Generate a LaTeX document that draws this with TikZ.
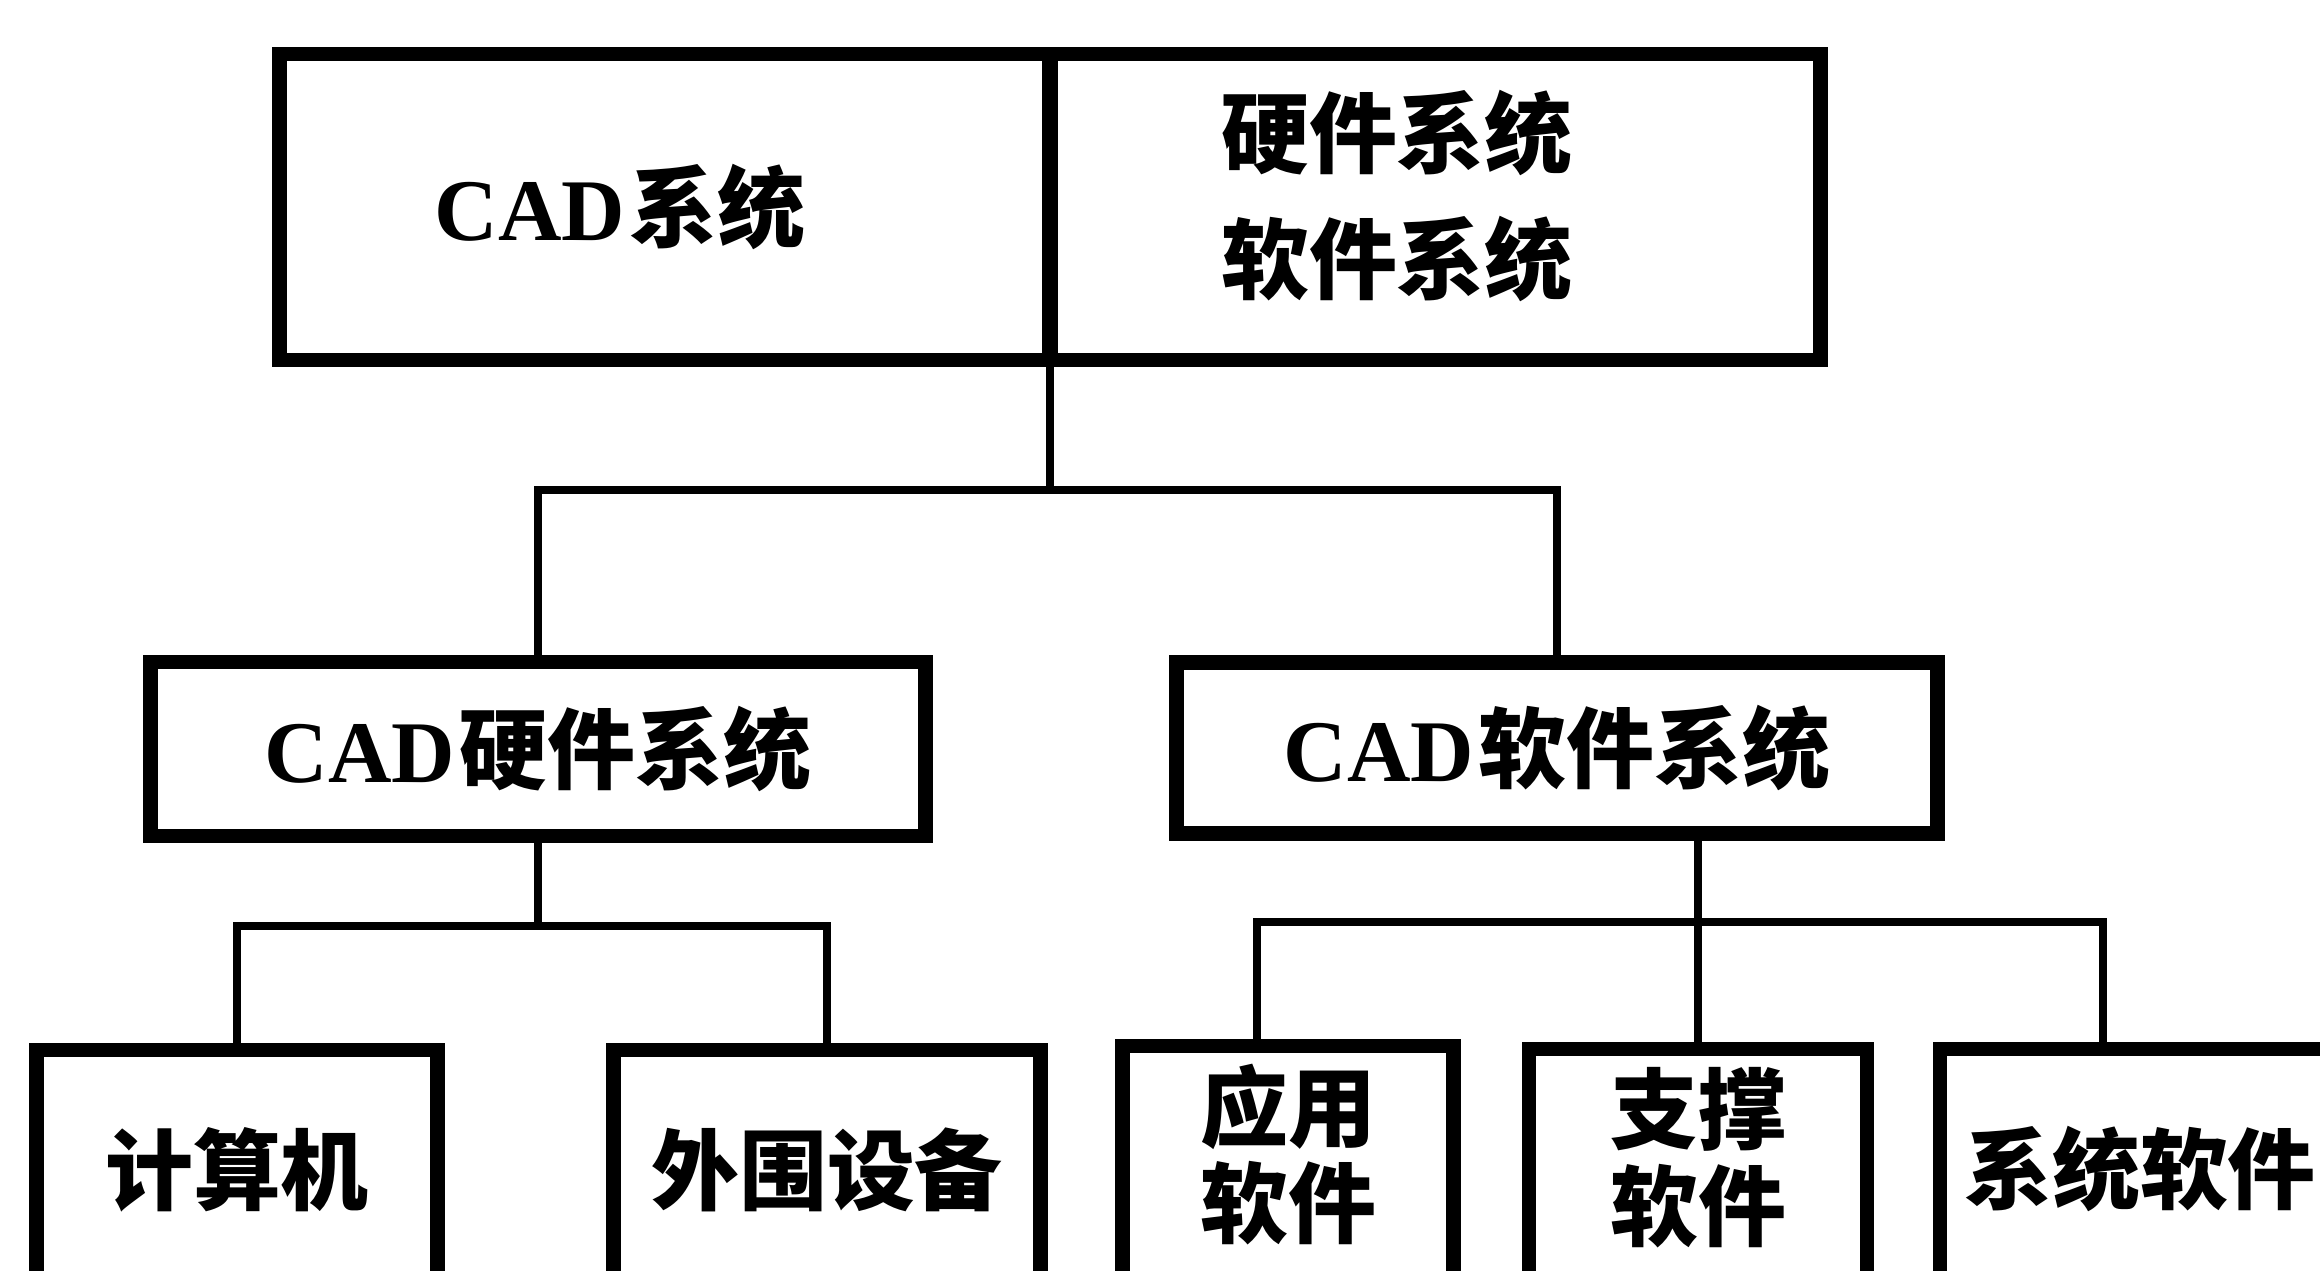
\documentclass[tikz,border=0pt]{standalone}
\usepackage{fontspec}
\setmainfont{Liberation Serif}
\newfontfamily\cjk{Noto Sans CJK SC}
\usepackage{tikz}

\newcommand{\lat}[1]{{\rmfamily #1}\hspace{0.05em}}

\tikzset{
  blk/.style={draw, line width=4.2pt, inner sep=0pt, outer sep=0pt, align=center,
    font=\cjk\bfseries\fontsize{25}{30}\selectfont},
  leaf/.style={blk, anchor=north, minimum height=2.4cm},
  link/.style={line width=2.2pt},
}

\begin{document}
\begin{tikzpicture}[x=0.01cm, y=-0.01cm]
\useasboundingbox (0,0) rectangle (2320,1271);
\clip (0,0) rectangle (2320,1271);
\node[blk, minimum width=7.70cm, minimum height=3.06cm] (cad) at (665,207) {\lat{CAD}系统\hspace*{0.9cm}};
\node[blk, minimum width=7.70cm, minimum height=3.06cm] (parts) at (1435,207)
  {\raisebox{0.2cm}{\begin{tabular}{@{}c@{}}硬件系统\\[5pt]软件系统\end{tabular}}\hspace*{0.76cm}};
\node[blk, minimum width=7.74cm, minimum height=1.74cm] (hw) at (538,749) {\lat{CAD}硬件系统};
\node[blk, minimum width=7.60cm, minimum height=1.71cm] (sw) at (1557,748) {\lat{CAD}软件系统};
\node[leaf, minimum width=4cm] (comp) at (237,1050) {计算机};
\node[leaf, minimum width=4.26cm] (periph) at (827,1050) {外围设备};
\node[leaf, minimum width=3.31cm] (app) at (1288,1046) {\raisebox{0.15cm}{\begin{tabular}{@{}c@{}}应用\\[-3pt]软件\end{tabular}}};
\node[leaf, minimum width=3.38cm] (supp) at (1698,1049) {\raisebox{0.15cm}{\begin{tabular}{@{}c@{}}支撑\\[-3pt]软件\end{tabular}}};
\node[leaf, minimum width=4cm] (syssw) at (2140,1049) {系统软件};
\coordinate (top) at (cad.south east |- 0,490);
\coordinate (hwjoin) at (hw.south |- 0,926);
\coordinate (swjoin) at (supp.north |- 0,922);
\draw[link] (cad.south east) -- (top);
\draw[link] (hw.north) |- (top) -| (sw.north);
\draw[link] (hw.south) -- (hwjoin);
\draw[link] (comp.north) |- (hwjoin) -| (periph.north);
\draw[link] (sw.south -| supp.north) -- (supp.north);
\draw[link] ([xshift=-0.31cm]app.north) |- (swjoin) -| ([xshift=-0.37cm]syssw.north);
\end{tikzpicture}
\end{document}
